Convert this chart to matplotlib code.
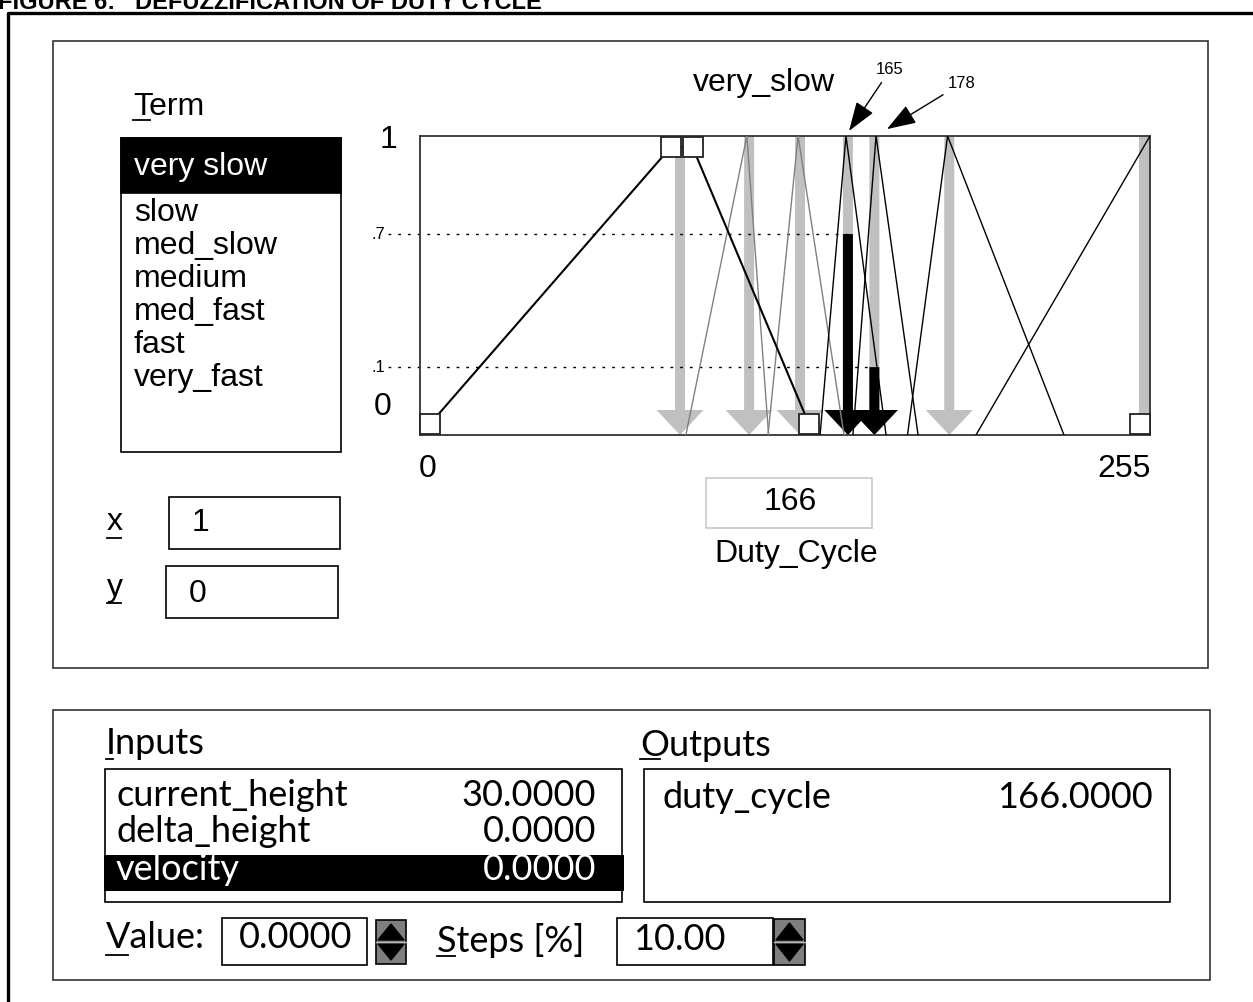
import matplotlib.pyplot as plt
from matplotlib.patches import Rectangle, Polygon

W, H = 1253, 1002

# Duty_Cycle output terms (x in display units 0..255, y = membership)
term_names = ["very slow", "slow", "med_slow", "medium", "med_fast", "fast", "very_fast"]
very_slow_x = [0.0, 86.5, 94.3, 136.1]
very_slow_y = [0.037, 0.963, 0.963, 0.037]
grey_terms_x = [[91.9, 113.8, 121.6],      # slow
                [121.4, 132.2, 148.7]]     # med_slow
black_terms_x = [[140.1, 149.4, 163.8],    # medium
                 [151.9, 160.2, 175.3],    # med_fast
                 [171.5, 185.9, 227.7]]    # fast
tri_y = [0, 1, 0]
very_fast_x = [196.1, 258.6]
very_fast_y = [0, 1]
handle_x = [0.0, 86.5, 94.3, 136.1, 255.0]
handle_y = [0.037, 0.963, 0.963, 0.037, 0.037]

# singletons and the fired ones
grey_arrow_x = [89.8, 114.6, 132.9, 150.1, 159.6, 186.5]
end_bar_x = 256.3
fired_x = [150.1, 159.6]
fired_level = [0.672, 0.227]
fired_label = [".7", ".1"]
callouts = [("165", 150.5, 1.017, 165.2, 1.221), ("178", 164.1, 1.023, 191.1, 1.177)]

# input / output tables
input_names = ["current_height", "delta_height", "velocity"]
input_values = ["30.0000", "0.0000", "0.0000"]
output_names = ["duty_cycle"]
output_values = ["166.0000"]
crisp_out = "166"

SANS = "Liberation Sans"
GUI = "Lato"
FS = 23

fig = plt.figure(figsize=(W / 100, H / 100), dpi=100)
bg = fig.add_axes([0, 0, 1, 1])
bg.set_xlim(0, W)
bg.set_ylim(H, 0)
bg.axis("off")


def box(x0, y0, x1, y1, ec="black", lw=1.0, fc="none", z=1):
    bg.add_patch(Rectangle((x0, y0), x1 - x0, y1 - y0, ec=ec, fc=fc, lw=lw, zorder=z))


def uline(x0, x1, y, lw=1.3):
    bg.plot([x0, x1], [y, y], color="black", lw=lw)


def spinner(x0, y0, x1, y1):
    box(x0, y0, x1, y1, fc="#7f7f7f", ec="black", lw=1.2)
    xm = (x0 + x1) / 2
    ym = (y0 + y1) / 2
    bg.add_patch(Polygon([[x0 + 2, ym - 2], [x1 - 2, ym - 2], [xm, y0 + 4]], color="black"))
    bg.add_patch(Polygon([[x0 + 2, ym + 2], [x1 - 2, ym + 2], [xm, y1 - 4]], color="black"))
    bg.plot([x0, x1], [ym, ym], color="#bbbbbb", lw=1)


# title (cut off at the top, as in the scan) and outer frame
bg.text(-2, 9, "FIGURE 6:   DEFUZZIFICATION OF DUTY CYCLE", fontsize=17, fontweight="bold",
        family=SANS, va="baseline", ha="left")
bg.plot([8, 8, W], [H, 13, 13], color="black", lw=2.4)

# top panel
box(53, 41, 1208, 668, ec="#333333", lw=1.2)
bg.text(133, 107, "Term", family=SANS, fontsize=FS, va="center")
uline(133, 150, 120)
box(121, 138, 341, 452, lw=1.2)
box(121, 138, 341, 193, fc="black", lw=1.2)
bg.text(134, 167, term_names[0], family=SANS, fontsize=FS, va="center", color="white")
for i, name in enumerate(term_names[1:]):
    bg.text(134, 213 + i * 33, name, family=SANS, fontsize=FS, va="center")

bg.text(107, 522, "x", family=SANS, fontsize=FS, va="center")
uline(107, 121, 538)
box(169, 497, 340, 549, lw=1.2)
bg.text(192, 523, "1", family=SANS, fontsize=FS, va="center")
bg.text(107, 588, "y", family=SANS, fontsize=FS, va="center")
uline(107, 121, 603)
box(166, 566, 338, 618, lw=1.2)
bg.text(189, 594, "0", family=SANS, fontsize=FS, va="center")

bg.text(389, 140, "1", family=SANS, fontsize=FS, va="center", ha="center")
bg.text(383, 407, "0", family=SANS, fontsize=FS, va="center", ha="center")
bg.text(428, 469, "0", family=SANS, fontsize=FS, va="center", ha="center")
bg.text(1124, 469, "255", family=SANS, fontsize=FS, va="center", ha="center")
bg.text(764, 83, "very_slow", family=SANS, fontsize=FS, va="center", ha="center")
box(706, 478, 872, 528, ec="#c8c8c8", lw=1.2)
bg.text(790, 502, crisp_out, family=SANS, fontsize=FS, va="center", ha="center")
bg.text(796, 554, "Duty_Cycle", family=SANS, fontsize=FS, va="center", ha="center")

# bottom panel
box(53, 710, 1210, 980, ec="#333333", lw=1.2)
GF = 26
bg.text(106, 743, "Inputs", family=GUI, fontsize=GF, va="center")
uline(106, 113, 759)
bg.text(640, 745, "Outputs", family=GUI, fontsize=GF, va="center")
uline(640, 660, 759)
box(105, 769, 622, 902, lw=1.2)
box(104, 855, 624, 891, fc="black", lw=0)
for i, (n, v) in enumerate(zip(input_names, input_values)):
    c = "white" if i == 2 else "black"
    y = 795 + i * 37
    bg.text(116, y, n, family=GUI, fontsize=GF, va="center", color=c)
    bg.text(596, y, v, family=GUI, fontsize=GF, va="center", ha="right", color=c)
box(644, 769, 1170, 902, lw=1.2)
for n, v in zip(output_names, output_values):
    bg.text(662, 797, n, family=GUI, fontsize=GF, va="center")
    bg.text(1153, 797, v, family=GUI, fontsize=GF, va="center", ha="right")

bg.text(106, 938, "Value:", family=GUI, fontsize=GF, va="center")
uline(106, 128, 955)
box(222, 918, 367, 965, lw=1.2)
bg.text(296, 938, input_values[2], family=GUI, fontsize=GF, va="center", ha="center")
spinner(376, 920, 406, 964)
bg.text(437, 940, "Steps [%]", family=GUI, fontsize=GF, va="center")
uline(437, 455, 956)
box(617, 918, 773, 965, lw=1.2)
bg.text(633, 940, "10.00", family=GUI, fontsize=GF, va="center")
spinner(774, 919, 805, 965)

# membership plot
ax = fig.add_axes([420 / W, 1 - 435 / H, 730 / W, 299 / H])
ax.set_xlim(-3.6, 258.6)
ax.set_ylim(0, 1)
ax.set_xticks([])
ax.set_yticks([])
for s in ax.spines.values():
    s.set_color("#333333")
    s.set_linewidth(1.3)

px = 255 / 710  # data units per pixel
for x in grey_arrow_x:
    ax.arrow(x, 1, 0, -1, width=10 * px, head_width=47 * px, head_length=25 / 299,
             length_includes_head=True, color="#c0c0c0", lw=0, zorder=1)
ax.plot([end_bar_x, end_bar_x], [1, 0.07], color="#c0c0c0", lw=8, solid_capstyle="butt", zorder=1)

for x, lvl, lab in zip(fired_x, fired_level, fired_label):
    ax.arrow(x, lvl, 0, -lvl, width=10 * px, head_width=47 * px, head_length=25 / 299,
             length_includes_head=True, color="black", lw=0, zorder=2)
    ax.plot([-15, x], [lvl, lvl], color="black", lw=1, ls=(0, (2, 5)), clip_on=False, zorder=2)
    ax.text(-16, lvl, lab, fontsize=12, family=SANS, ha="right", va="center", clip_on=False)

for xs in grey_terms_x:
    ax.plot(xs, tri_y, color="#808080", lw=1.0, zorder=3)
for xs in black_terms_x:
    ax.plot(xs, tri_y, color="black", lw=1.0, zorder=3)
ax.plot(very_fast_x, very_fast_y, color="black", lw=1.0, zorder=3)
ax.plot(very_slow_x, very_slow_y, color="black", lw=1.5, zorder=3)
ax.plot(handle_x, handle_y, ls="none", marker="s", ms=15, mfc="white", mec="#222222",
        mew=1.3, zorder=4, clip_on=False)

for lab, x, y, tx, ty in callouts:
    ax.annotate(lab, xy=(x, y), xytext=(tx, ty), fontsize=12, family=SANS,
                ha="center", va="center", annotation_clip=False,
                arrowprops=dict(arrowstyle="-|>,head_length=1.3,head_width=0.45",
                                color="black", lw=1, shrinkA=2, shrinkB=0, mutation_scale=14))

fig.savefig("out.png", dpi=100)
